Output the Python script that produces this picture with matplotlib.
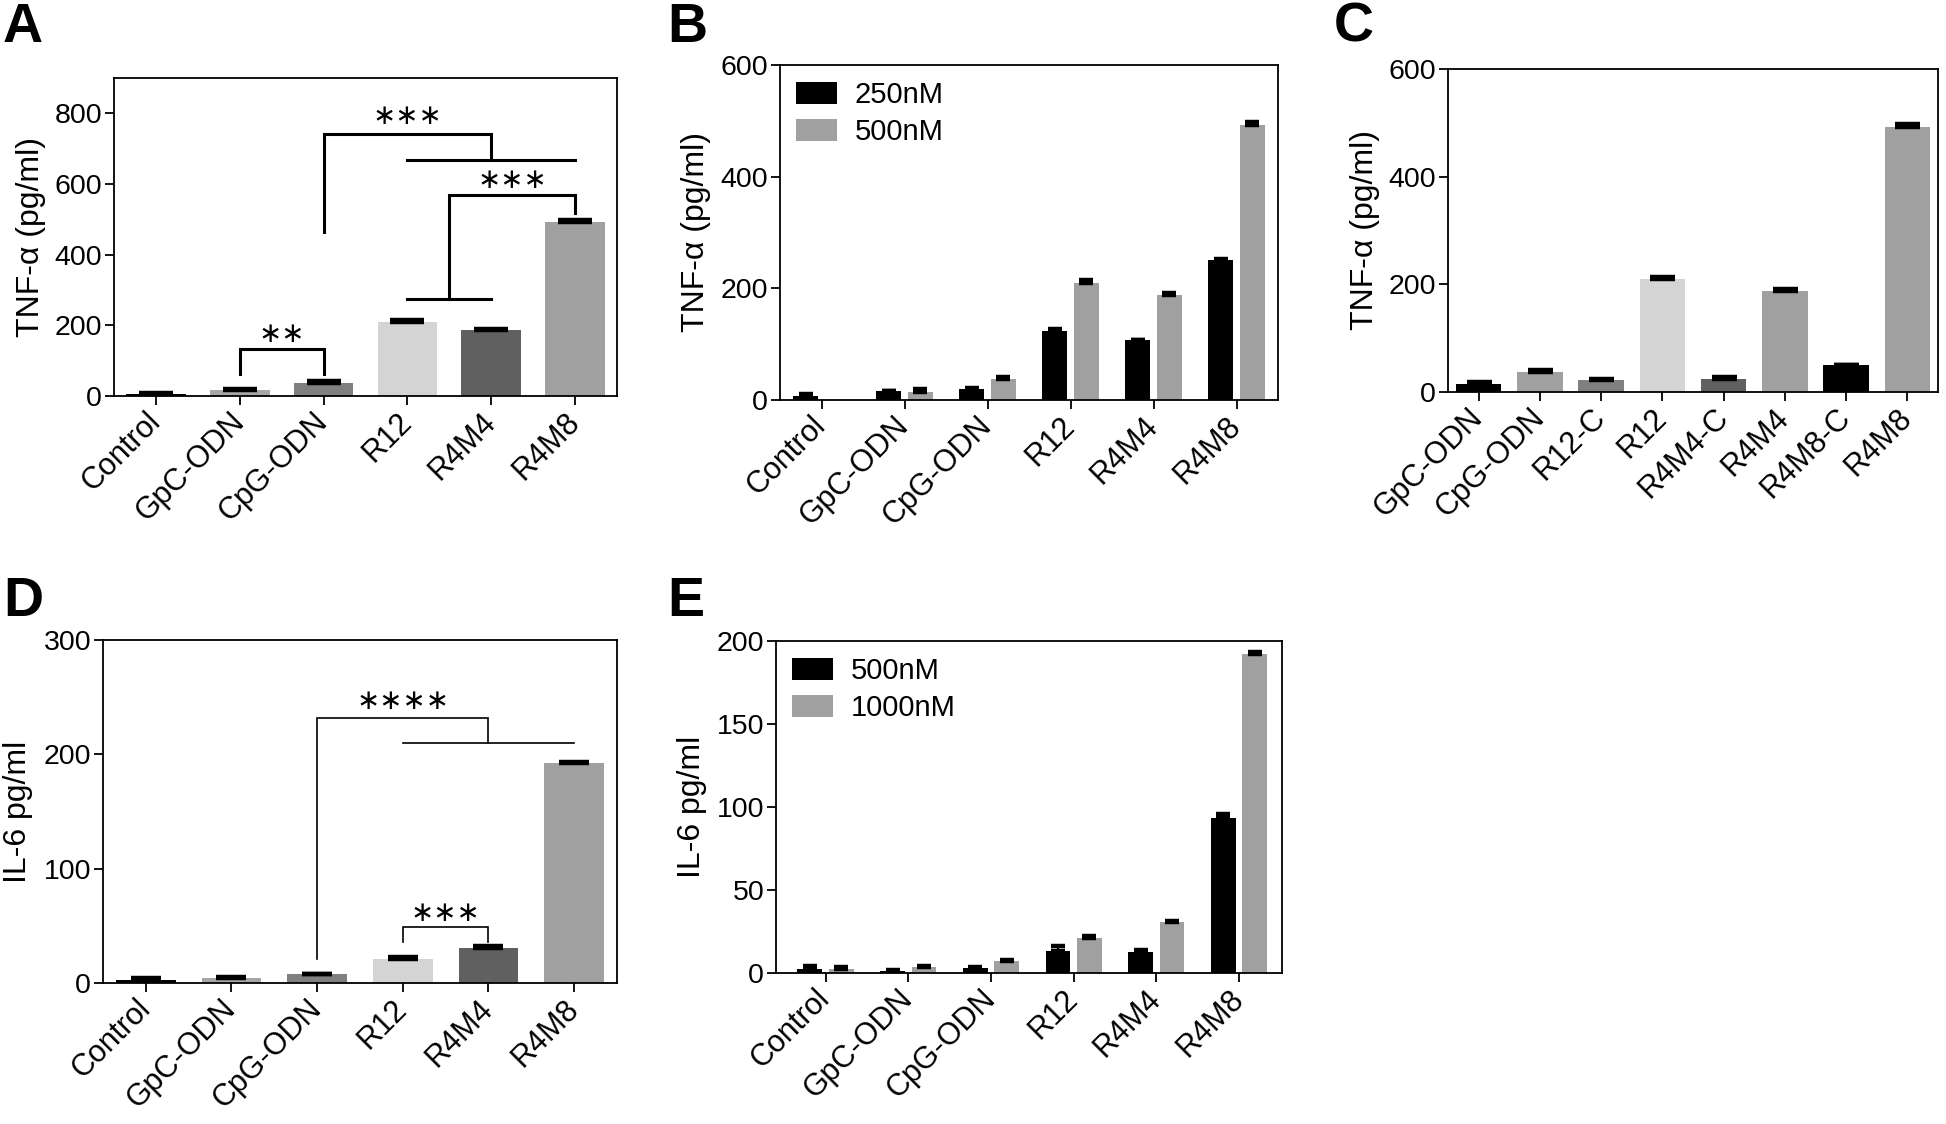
import matplotlib
matplotlib.use("Agg")
import matplotlib.pyplot as plt
import numpy as np

plt.rcParams['font.family'] = ['Liberation Sans', 'DejaVu Sans']
plt.rcParams['axes.linewidth'] = 1.3

# ---------------- data ----------------
cats6 = ["Control", "GpC-ODN", "CpG-ODN", "R12", "R4M4", "R4M8"]
cats8 = ["GpC-ODN", "CpG-ODN", "R12-C", "R12", "R4M4-C", "R4M4", "R4M8-C", "R4M8"]

A_vals = [7, 16, 38, 210, 188, 492]
A_err = [2, 3, 4, 4, 3, 5]
A_colors = ["#000000", "#a6a6a6", "#808080", "#d4d4d4", "#606060", "#a0a0a0"]

B_250 = [8, 16, 19, 124, 107, 250]
B_250_err = [2, 1, 3, 4, 1, 2]
B_500 = [np.nan, 15, 38, 210, 188, 492]
B_500_err = [np.nan, 4, 3, 5, 4, 6]
B_labels = ["250nM", "500nM"]

C_vals = [15, 38, 22, 210, 25, 188, 50, 492]
C_err = [3, 3, 3, 4, 3, 3, 1, 5]
C_colors = ["#000000", "#a0a0a0", "#808080", "#d4d4d4", "#606060", "#a0a0a0", "#000000", "#a0a0a0"]

D_vals = [3, 4.5, 8, 21, 31, 192]
D_err = [1, 0.5, 0.3, 1.5, 1.5, 1.5]
D_colors = ["#000000", "#a6a6a6", "#808080", "#d4d4d4", "#606060", "#a0a0a0"]

E_500 = [2.5, 1.2, 3, 13, 12.5, 93.5]
E_500_err = [1.5, 0.5, 0.7, 3, 1.5, 2.5]
E_1000 = [2.5, 3.5, 7, 21, 30.5, 192]
E_1000_err = [1, 0.8, 1, 1.2, 1, 1.2]
E_labels = ["500nM", "1000nM"]

# significance annotations: (x_left, y_left, x_right, y_right, y_top)
A_brackets = [(1, 62, 2, 62, 133), (2, 465, 4, 668, 742), (3.5, 275, 5, 518, 569)]
A_lines = [(3, 5, 668), (3, 4, 275)]
A_texts = [(1.5, 176, "∗∗"), (3.0, 793, "∗∗∗"), (4.25, 610, "∗∗∗")]

D_brackets = [(2, 21, 4, 210, 232), (3, 36, 4, 36, 49)]
D_lines = [(3, 5, 210)]
D_texts = [(3.0, 247, "∗∗∗∗"), (3.5, 61, "∗∗∗")]

# ---------------- figure ----------------
W, H = 1946, 1124
fig = plt.figure(figsize=(W / 100, H / 100), dpi=100)


def add_ax(l, t, r, b):
    return fig.add_axes([l / W, 1 - b / H, (r - l) / W, (b - t) / H])


YTICK_FS = 20.5
XTICK_FS = 22
YLABEL_FS = 23
LEG_FS = 21


def style(ax, cats, ylim, yticks, ylabel, xlim, label_right_px, ax_left_px, ax_w_px):
    ax.set_xlim(*xlim)
    ax.set_ylim(*ylim)
    ax.set_yticks(yticks)
    ax.set_xticks(range(len(cats)))
    ax.set_xticklabels(cats, rotation=45, ha="right", va="center",
                       rotation_mode="anchor", fontsize=XTICK_FS)
    ax.tick_params(axis="y", direction="out", length=6.5, width=1.3,
                   labelsize=YTICK_FS, pad=2)
    ax.tick_params(axis="x", direction="out", length=6.5, width=1.3, pad=9)
    ax.set_ylabel(ylabel, fontsize=YLABEL_FS)
    ax.yaxis.set_label_coords((label_right_px - ax_left_px) / ax_w_px, 0.5)
    for s in ax.spines.values():
        s.set_linewidth(1.3)


def single_bars(ax, vals, errs, colors, width, capsize):
    x = np.arange(len(vals))
    ax.bar(x, vals, width=width, color=colors, zorder=2)
    ax.errorbar(x, vals, yerr=[np.zeros(len(errs)), errs], fmt="none",
                ecolor="black", elinewidth=1.5, capsize=capsize, capthick=3.2,
                zorder=3)


def paired_bars(ax, v1, e1, v2, e2, labels, capsize):
    x = np.arange(len(v1))
    off, w = 0.19, 0.30
    ax.bar(x - off, v1, width=w, color="#000000", label=labels[0], zorder=2)
    ax.bar(x + off, v2, width=w, color="#a0a0a0", label=labels[1], zorder=2)
    for xx, v, e in ((x - off, v1, e1), (x + off, v2, e2)):
        ax.errorbar(xx, v, yerr=[np.zeros(len(e)), e], fmt="none",
                    ecolor="black", elinewidth=1.5, capsize=capsize,
                    capthick=3.2, zorder=3)
    ax.legend(loc="upper left", frameon=False, fontsize=LEG_FS,
              handlelength=1.4, handleheight=0.8, handletextpad=0.6,
              labelspacing=0.3, borderaxespad=0.25, borderpad=0.3)


def annotate(ax, brackets, lines, texts, lw, fs):
    for x1, y1, x2, y2, top in brackets:
        ax.plot([x1, x1, x2, x2], [y1, top, top, y2], color="black", lw=lw,
                solid_joinstyle="miter", zorder=4)
    for x1, x2, y in lines:
        ax.plot([x1, x2], [y, y], color="black", lw=lw, zorder=4)
    for x, y, t in texts:
        ax.text(x, y, t, ha="center", va="center", fontsize=fs,
                family="DejaVu Sans", zorder=4)


# Panel A
axA = add_ax(114, 78, 617, 396)
single_bars(axA, A_vals, A_err, A_colors, 0.71, 12)
style(axA, cats6, (0, 900), [0, 200, 400, 600, 800], "TNF-α (pg/ml)",
      (-0.5, 5.5), 46, 114, 503)
annotate(axA, A_brackets, A_lines, A_texts, 2.2, 20)

# Panel B
axB = add_ax(780, 65, 1278, 400)
paired_bars(axB, B_250, B_250_err, B_500, B_500_err, B_labels, 5)
style(axB, cats6, (0, 600), [0, 200, 400, 600], "TNF-α (pg/ml)",
      (-0.5, 5.5), 711, 780, 498)

# Panel C
axC = add_ax(1448, 69, 1938, 392)
single_bars(axC, C_vals, C_err, C_colors, 0.74, 9)
style(axC, cats8, (0, 600), [0, 200, 400, 600], "TNF-α (pg/ml)",
      (-0.5, 7.5), 1380, 1448, 490)

# Panel D
axD = add_ax(103, 640, 617, 983)
single_bars(axD, D_vals, D_err, D_colors, 0.70, 10.5)
style(axD, cats6, (0, 300), [0, 100, 200, 300], "IL-6 pg/ml",
      (-0.5, 5.5), 33, 103, 514)
annotate(axD, D_brackets, D_lines, D_texts, 1.2, 20)

# Panel E
axE = add_ax(776, 641, 1282, 973)
paired_bars(axE, E_500, E_500_err, E_1000, E_1000_err, E_labels, 5)
style(axE, cats6, (0, 200), [0, 50, 100, 150, 200], "IL-6 pg/ml",
      (-0.6, 5.52), 707, 776, 506)

# panel letters
for letter, x, y in (("A", 3, 2), ("B", 667, 2), ("C", 1334, 2),
                     ("D", 3, 576), ("E", 667, 576)):
    fig.text(x / W, 1 - y / H, letter, fontsize=40, fontweight="bold",
             ha="left", va="top")

fig.savefig("out.png", dpi=100)
